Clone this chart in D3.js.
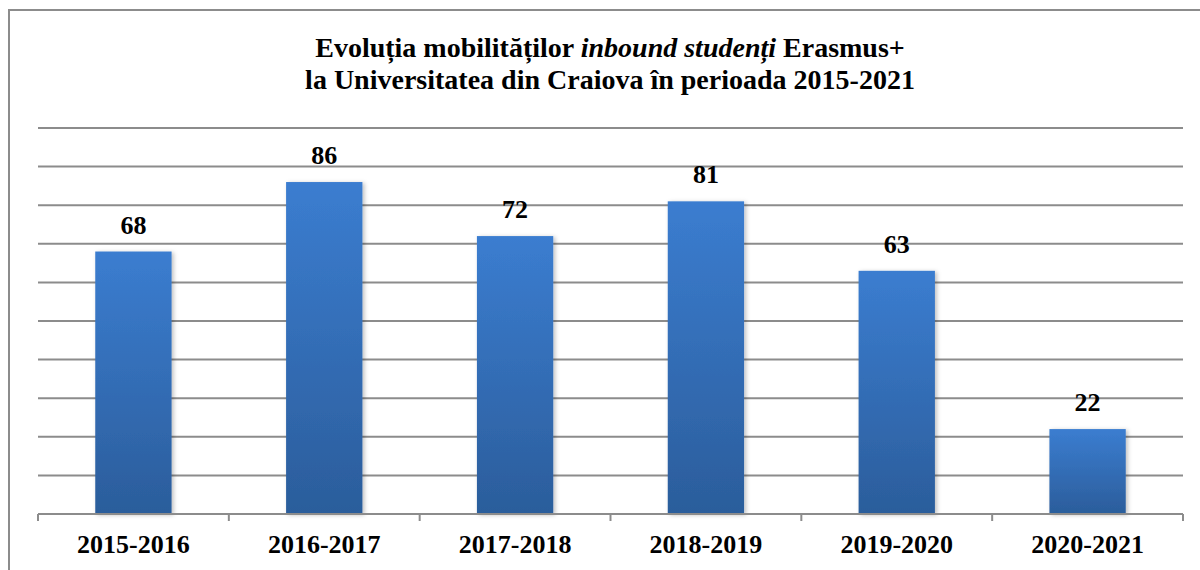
<!DOCTYPE html>
<html lang="ro">
<head>
<meta charset="UTF-8">
<title>Mobilități inbound Erasmus+</title>
<script src="https://cdn.jsdelivr.net/npm/d3@7"></script>
<style>
    body { margin: 0; background: #fff; }
    .grid line { stroke: #8c8c8c; stroke-width: 2; }
    .axis path, .axis line { fill: none; stroke: #8c8c8c; stroke-width: 2; }
    .axis text { font-family: "Liberation Serif", serif; font-weight: bold; font-size: 26px; fill: #000; }
    .title { font-family: "Liberation Serif", serif; font-weight: bold; font-size: 28px; fill: #000; }
    .val { font-family: "Liberation Serif", serif; font-weight: bold; font-size: 26px; fill: #000; }
</style>
</head>
<body>
<svg id="vis" width="1200" height="570"></svg>
<script>
    let categories = ["2015-2016", "2016-2017", "2017-2018", "2018-2019", "2019-2020", "2020-2021"];
    let values = [68, 86, 72, 81, 63, 22];
    let yTicks = [0, 10, 20, 30, 40, 50, 60, 70, 80, 90, 100];

    let svg = d3.select("#vis");
    let margin = { top: 128, right: 17, bottom: 56, left: 38 };
    let width = 1200, height = 570;

    // cadru
    svg.append("rect")
        .attr("x", 9).attr("y", 10)
        .attr("width", 1200).attr("height", 600)
        .attr("fill", "none").attr("stroke", "#8c8c8c").attr("stroke-width", 2);

    let defs = svg.append("defs");
    let grad = defs.append("linearGradient").attr("id", "barGrad")
        .attr("x1", 0).attr("y1", 0).attr("x2", 0).attr("y2", 1);
    grad.append("stop").attr("offset", "0%").attr("stop-color", "#3b7dd0");
    grad.append("stop").attr("offset", "100%").attr("stop-color", "#2b5d9b");

    let shadow = defs.append("filter").attr("id", "shadow")
        .attr("x", "-20%").attr("y", "-10%").attr("width", "140%").attr("height", "120%");
    shadow.append("feDropShadow").attr("dx", 2).attr("dy", 1).attr("stdDeviation", 2)
        .attr("flood-color", "#000").attr("flood-opacity", 0.25);

    let x = d3.scaleBand().domain(categories)
        .range([margin.left, width - margin.right]).paddingInner(0.6).paddingOuter(0.3);
    let y = d3.scaleLinear().domain([0, 100]).range([height - margin.bottom, margin.top]);

    // linii de grilă
    svg.append("g").attr("class", "grid")
        .selectAll("line")
        .data(yTicks.slice(1))
        .join("line")
        .attr("x1", margin.left).attr("x2", width - margin.right)
        .attr("y1", d => y(d)).attr("y2", d => y(d));

    svg.selectAll(".bar")
        .data(values)
        .join("rect")
        .attr("class", "bar")
        .attr("x", (d, i) => x(categories[i]))
        .attr("y", d => y(d))
        .attr("width", x.bandwidth())
        .attr("height", d => y(0) - y(d))
        .attr("fill", "url(#barGrad)")
        .attr("filter", "url(#shadow)");

    // axa X cu marcaje între categorii
    let xAxis = svg.append("g")
        .attr("class", "axis")
        .attr("transform", "translate(0," + y(0) + ")");
    xAxis.append("line")
        .attr("x1", margin.left).attr("x2", width - margin.right)
        .attr("y1", 0).attr("y2", 0);
    let edges = d3.range(categories.length + 1).map(i => margin.left + (width - margin.left - margin.right) * i / categories.length);
    xAxis.selectAll(".tick-mark")
        .data(edges)
        .join("line")
        .attr("x1", d => d).attr("x2", d => d)
        .attr("y1", 0).attr("y2", 7);
    xAxis.selectAll(".lbl")
        .data(categories)
        .join("text")
        .attr("x", d => x(d) + x.bandwidth() / 2)
        .attr("y", 39)
        .attr("text-anchor", "middle")
        .text(d => d);

    svg.selectAll(".val")
        .data(values)
        .join("text")
        .attr("class", "val")
        .attr("x", (d, i) => x(categories[i]) + x.bandwidth() / 2)
        .attr("y", d => y(d) - 18)
        .attr("text-anchor", "middle")
        .text(d => d);

    // titlu
    let title = svg.append("text").attr("class", "title").attr("text-anchor", "middle");
    let l1 = title.append("tspan").attr("x", 610).attr("y", 57);
    l1.append("tspan").text("Evoluția mobilităților ");
    l1.append("tspan").attr("font-style", "italic").text("inbound studenți");
    l1.append("tspan").text(" Erasmus+");
    title.append("tspan").attr("x", 610).attr("y", 89)
        .text("la Universitatea din Craiova în perioada 2015-2021");
</script>
</body>
</html>
